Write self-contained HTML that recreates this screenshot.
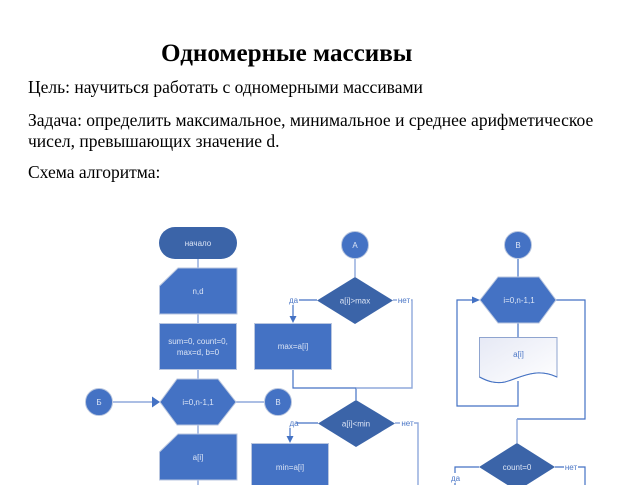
<!DOCTYPE html>
<html><head><meta charset="utf-8">
<style>
html,body{margin:0;padding:0;background:#fff;width:635px;height:485px;overflow:hidden}
svg{display:block;position:absolute;left:0;top:0}
.t{font-family:"Liberation Serif",serif;fill:#000;font-size:17.5px}
.h{font-family:"Liberation Serif",serif;font-weight:bold;font-size:25.1px;fill:#000}
.w{font-family:"Liberation Sans",sans-serif;font-size:8px;fill:#dbe4f5;text-anchor:middle}
.b{font-family:"Liberation Sans",sans-serif;font-size:8px;fill:#4a76c6;text-anchor:middle}
.s{fill:#4472C4;stroke:#b9c6df;stroke-width:1}
.d{fill:#3b64a8;stroke:none}
.l{fill:none;stroke:#4472C4;stroke-width:1.2}
.m{fill:none;stroke:#8fa9dc;stroke-width:1.4}
</style></head><body>
<svg width="635" height="485" viewBox="0 0 635 485" xmlns="http://www.w3.org/2000/svg">
<defs><linearGradient id="g" x1="0" y1="0" x2="1" y2="1"><stop offset="0" stop-color="#e6e9f5"/><stop offset="1" stop-color="#ffffff"/></linearGradient></defs>
<text class="h" x="161" y="61">Одномерные массивы</text>
<text class="t" x="28" y="93">Цель: научиться работать с одномерными массивами</text>
<text class="t" x="28" y="126">Задача: определить максимальное, минимальное и среднее арифметическое</text>
<text class="t" x="28" y="147">чисел, превышающих значение d.</text>
<text class="t" x="28" y="178">Схема алгоритма:</text>

<!-- connectors -->
<path class="m" d="M198 259V268M198 314V323M198 370V379M198 425V434M198 480V485"/>
<path class="m" d="M113 402H153M236 402H264"/>
<path d="M152 396.500L160 402L152 407.500Z" fill="#4472C4"/>
<path class="m" d="M355 259V277"/>
<path class="l" d="M317 300H293V316"/>
<path d="M289.500 316H296.500L293 323Z" fill="#4472C4"/>
<path class="l" d="M293 370V388H356V400"/>
<path class="m" d="M393 300H412V388H356"/>
<path class="l" d="M318 423H290V436"/>
<path d="M286.500 436H293.500L290 443Z" fill="#4472C4"/>
<path class="m" d="M395 423H418V485"/>
<path class="l" d="M518 259V277M518 323V337"/>
<path class="l" d="M518 381V406H457V300H473"/>
<path d="M472 296.500L480 300L472 303.500Z" fill="#4472C4"/>
<path class="l" d="M556 300H585V419H517"/>
<path class="m" d="M517 419V443"/>
<path class="l" d="M479 467H455V473"/>
<path class="l" d="M555 467H585V485"/>
<path class="l" d="M455 483V485"/>

<!-- shapes column 1 -->
<rect class="d" x="159" y="227" width="78" height="32" rx="16"/>
<text class="w" x="198" y="246">начало</text>
<path class="s" d="M178 268H237V314H159.500V286Z"/>
<text class="w" x="198" y="294">n,d</text>
<rect class="s" x="159.500" y="323.500" width="77" height="46"/>
<text class="w" x="198" y="344">sum=0, count=0,</text>
<text class="w" x="198" y="355">max=d, b=0</text>
<path class="s" d="M177 379H218L236 402L218 425H177L160 402Z"/>
<text class="w" x="198" y="405">i=0,n-1,1</text>
<path class="s" d="M178 434H237V480H159.500V452Z"/>
<text class="w" x="198" y="460">a[i]</text>
<circle class="s" cx="99" cy="402" r="13.500"/>
<text class="w" x="99" y="405">Б</text>
<circle class="s" cx="278" cy="402" r="13.500"/>
<text class="w" x="278" y="405">В</text>

<!-- column 2 -->
<circle class="s" cx="355" cy="245" r="13.500"/>
<text class="w" x="355" y="248">А</text>
<path class="d" d="M355 277L393 300.500L355 324L317 300.500Z"/>
<text class="w" x="355" y="303.500">a[i]&gt;max</text>
<rect fill="#fff" x="287" y="296" width="12" height="9"/>
<text class="b" x="293.500" y="303">да</text>
<rect fill="#fff" x="397" y="296" width="14" height="9"/>
<text class="b" x="404" y="303">нет</text>
<rect class="s" x="254.500" y="323.500" width="77" height="46"/>
<text class="w" x="293" y="349">max=a[i]</text>
<path class="d" d="M356 400L395 423.500L356 447L318 423.500Z"/>
<text class="w" x="356" y="426.500">a[i]&lt;min</text>
<rect fill="#fff" x="284" y="419" width="12" height="9"/>
<text class="b" x="294" y="426">да</text>
<rect fill="#fff" x="400" y="419" width="14" height="9"/>
<text class="b" x="407.500" y="426">нет</text>
<rect class="s" x="251.500" y="443.500" width="77" height="46"/>
<text class="w" x="290" y="470">min=a[i]</text>

<!-- column 3 -->
<circle class="s" cx="518" cy="245" r="13.500"/>
<text class="w" x="518" y="248">В</text>
<path class="s" d="M498 277H539L556 300L539 323H498L480 300Z"/>
<text class="w" x="519" y="303">i=0,n-1,1</text>
<path fill="url(#g)" stroke="#8fa4cf" stroke-width="1" d="M479.500 337.500H557V377C535 367 520 378 505 382C495 384 487 381 479.500 377Z"/>
<path fill="none" stroke="#4472C4" stroke-width="1" d="M557 377C535 367 520 378 505 382C495 384 487 381 479.500 377"/>
<text class="b" x="518.500" y="357">a[i]</text>
<path class="d" d="M517 443L555 467L517 491L479 467Z"/>
<text class="w" x="517" y="470">count=0</text>
<rect fill="#fff" x="564" y="463" width="14" height="9"/>
<text class="b" x="571" y="470">нет</text>
<text class="b" x="455.500" y="481">да</text>
</svg>
</body></html>
